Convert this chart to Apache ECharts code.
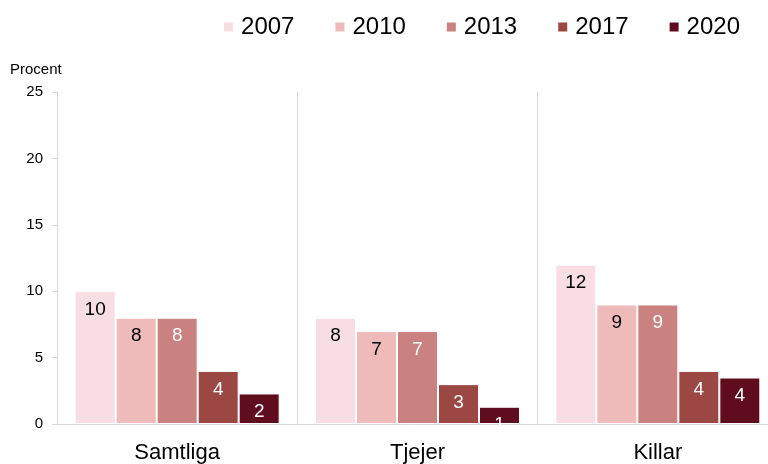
<!DOCTYPE html>
<html><head><meta charset="utf-8">
<script src="https://cdn.jsdelivr.net/npm/echarts@6/dist/echarts.min.js"></script>
<style>html,body{margin:0;padding:0;background:#fff}#c{width:768px;height:464px}</style>
</head><body><div id="c"></div>
<script>
const categories = ['Samtliga', 'Tjejer', 'Killar'];
const years = ['2007', '2010', '2013', '2017', '2020'];
const v2007 = [10, 8, 12];
const v2010 = [8, 7, 9];
const v2013 = [8, 7, 9];
const v2017 = [4, 3, 4];
const v2020 = [2.3, 1.3, 3.5];
const yTicks = [0, 5, 10, 15, 20, 25];
const colors = ['#F7DEE2', '#EEBBBA', '#C9827F', '#9B4744', '#5F0C1E'];
const labelColors = ['#000', '#000', '#fff', '#fff', '#fff'];
const values = [v2007, v2010, v2013, v2017, v2020];
const font = 'Liberation Sans';

const chart = echarts.init(document.getElementById('c'));
chart.setOption({
  animation: false,
  textStyle: { fontFamily: font },
  legend: {
    top: 10, right: 23, itemWidth: 11, itemHeight: 11, itemGap: 39,
    icon: 'rect',
    textStyle: { fontSize: 24, color: '#000', fontFamily: font, padding: [0,0,0,2] },
    data: years
  },
  grid: { left: 57, right: -10, top: 92, bottom: 40, containLabel: false, outerBoundsMode: 'none' },
  xAxis: {
    type: 'category', data: categories,
    axisLine: { show: true, lineStyle: { color: '#d9d9d9' } },
    axisTick: { show: false },
    splitLine: { show: true, lineStyle: { color: '#d9d9d9' } },
    axisLabel: { fontSize: 22, color: '#000', margin: 18, fontFamily: font }
  },
  yAxis: {
    type: 'value', min: 0, max: 25, interval: 5,
    name: 'Procent', nameLocation: 'end', nameGap: 15,
    nameTextStyle: { fontSize: 15, color: '#000', align: 'left', padding: [0,0,0,-47], fontFamily: font },
    axisLine: { show: true, lineStyle: { color: '#d9d9d9' } },
    axisTick: { show: true, length: 5, lineStyle: { color: '#d9d9d9' } },
    splitLine: { show: false },
    axisLabel: { fontSize: 15, color: '#000', margin: 14, fontFamily: font,
      formatter: v => yTicks.includes(v) ? String(v) : '' }
  },
  series: years.map((y, i) => ({
    name: y, type: 'bar', data: values[i],
    barWidth: 41, barGap: '0%',
    itemStyle: { color: colors[i], borderColor: '#fff', borderWidth: 1 },
    label: { show: true, position: 'insideTop', distance: 9, fontSize: 19,
      color: labelColors[i], fontFamily: font,
      formatter: p => String(Math.round(p.value)) }
  }))
});
</script></body></html>
